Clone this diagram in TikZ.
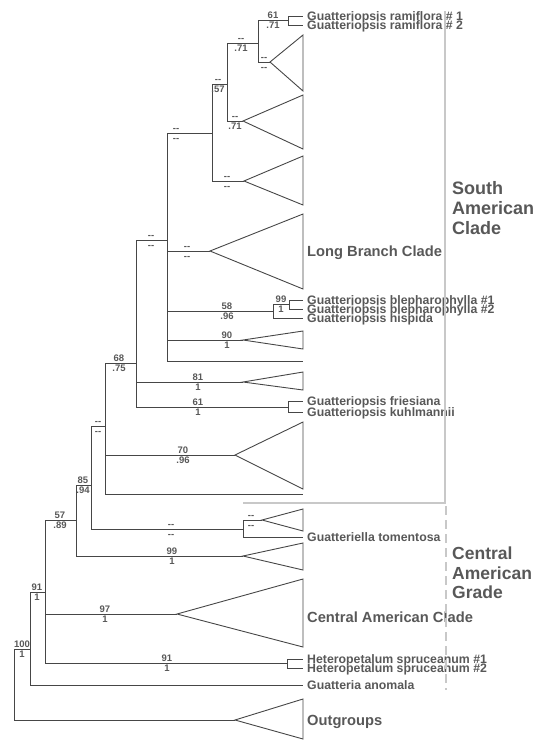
\documentclass[tikz,border=0pt]{standalone}
\usepackage{fontspec}
\setmainfont{Liberation Sans}
\usetikzlibrary{positioning, calc}
\definecolor{treeGray}{RGB}{70,70,70}
\definecolor{labelGray}{RGB}{88,88,88}
\definecolor{groupGray}{RGB}{200,200,200}
\tikzset{
    branch/.style={line width=0.9pt, draw=treeGray},
    supTop/.style={anchor=south, inner sep=1.3pt, text height=7pt, text depth=0pt, font=\fontsize{9.5}{10}\selectfont\bfseries, text=labelGray},
    supBot/.style={anchor=north, inner sep=1.6pt, text height=7pt, text depth=0pt, font=\fontsize{9.5}{10}\selectfont\bfseries, text=labelGray},
    taxLabel/.style={anchor=base west, inner sep=0pt, xshift=4pt, yshift=-4.3pt, font=\fontsize{12.3}{12}\selectfont\bfseries, text=labelGray},
    cladeLabel/.style={anchor=base west, inner sep=0pt, xshift=4pt, yshift=-5.3pt, font=\fontsize{14.7}{15}\selectfont\bfseries, text=labelGray},
    groupLabel/.style={anchor=west, align=left, inner sep=0pt, text=labelGray},
    groupLine/.style={line width=2pt, draw=groupGray}
}

\begin{document}
\begin{tikzpicture}[x=1pt, y=-1pt]
        \useasboundingbox (0,0) rectangle (538,740);

        % --- Macros ---
        \def\nd{\mbox{-}\mbox{-}}
        % parent, child, label x, top value, bottom value
        \def\drawBranch#1#2#3#4#5{
            \draw[branch] (#1) |- (#2);
            \node[supTop] (#2t) at (#3,0 |- #2) {#4};
            \node[supBot] (#2b) at (#3,0 |- #2) {#5};
        }
        % apex, top of base, bottom of base
        \def\drawClade#1#2#3{
            \draw[branch] (#1) -- (303,#2) -- (303,#3) -- cycle;
        }

        % --- Internal nodes ---
        \coordinate (L) at (14,649);
        \coordinate (K) at (30,649);
        \coordinate (J) at (45,592);
        \coordinate (H) at (76,520);
        \coordinate (G) at (91,485);
        \coordinate (F) at (105,426);
        \coordinate (E) at (136,363);
        \coordinate (D) at (167,240);
        \coordinate (C) at (212,133);
        \coordinate (B) at (227,84);
        \coordinate (A) at (258,43);
        \coordinate (T) at (288,20);
        \coordinate (R) at (273,311);
        \coordinate (S) at (289,304);
        \coordinate (Q) at (288,407);
        \coordinate (I) at (243,529);
        \coordinate (P) at (287,663);

        % --- Collapsed clades (apex) ---
        \coordinate (cA) at (270,62);
        \coordinate (cB) at (243,121);
        \coordinate (cC) at (244,181);
        \coordinate (cLong) at (210,251);
        \coordinate (cNinety) at (243,340);
        \coordinate (cEighty) at (243,382);
        \coordinate (cSeventy) at (235,455);
        \coordinate (cTom) at (262,520);
        \coordinate (cNinetyNine) at (243,556);
        \coordinate (cCentral) at (177,614);
        \coordinate (cOut) at (235,720);

        % --- Tips ---
        \coordinate (tRam1) at (303,16);
        \coordinate (tRam2) at (303,25);
        \coordinate (tBle1) at (303,300);
        \coordinate (tBle2) at (303,309);
        \coordinate (tHis) at (303,318);
        \coordinate (tPlainD) at (303,361);
        \coordinate (tFri) at (303,401);
        \coordinate (tKuh) at (303,412);
        \coordinate (tPlainF) at (303,494);
        \coordinate (tTom) at (303,537);
        \coordinate (tHet1) at (303,659);
        \coordinate (tHet2) at (303,668);
        \coordinate (tAno) at (303,685);

        % --- Branches ---
        \drawBranch{L}{K}{22}{100}{1}
        \drawBranch{K}{J}{37}{91}{1}
        \drawBranch{J}{H}{60}{57}{.89}
        \drawBranch{J}{cCentral}{105}{97}{1}
        \drawBranch{J}{P}{167}{91}{1}
        \drawBranch{H}{G}{83}{85}{.94}
        \drawBranch{H}{cNinetyNine}{172}{99}{1}
        \drawBranch{G}{F}{98}{\nd}{\nd}
        \drawBranch{G}{I}{171}{\nd}{\nd}
        \drawBranch{I}{cTom}{251}{\nd}{\nd}
        \drawBranch{F}{E}{119}{68}{.75}
        \drawBranch{F}{cSeventy}{183}{70}{.96}
        \drawBranch{E}{D}{151}{\nd}{\nd}
        \drawBranch{E}{cEighty}{198}{81}{1}
        \drawBranch{E}{Q}{198}{61}{1}
        \drawBranch{D}{C}{176}{\nd}{\nd}
        \drawBranch{D}{cLong}{187}{\nd}{\nd}
        \drawBranch{D}{R}{227}{58}{.96}
        \drawBranch{D}{cNinety}{227}{90}{1}
        \drawBranch{R}{S}{281}{99}{1}
        \drawBranch{C}{B}{218}{\nd}{.57}
        \drawBranch{C}{cC}{227}{\nd}{\nd}
        \drawBranch{B}{A}{241}{\nd}{.71}
        \drawBranch{B}{cB}{235}{\nd}{.71}
        \drawBranch{A}{T}{273}{61}{.71}
        \drawBranch{A}{cA}{264}{\nd}{\nd}

        \draw[branch] (L) |- (cOut);
        \draw[branch] (K) |- (tAno);
        \draw[branch] (P) |- (tHet1);
        \draw[branch] (P) |- (tHet2);
        \draw[branch] (I) |- (tTom);
        \draw[branch] (F) |- (tPlainF);
        \draw[branch] (Q) |- (tFri);
        \draw[branch] (Q) |- (tKuh);
        \draw[branch] (D) |- (tPlainD);
        \draw[branch] (R) |- (tHis);
        \draw[branch] (S) |- (tBle1);
        \draw[branch] (S) |- (tBle2);
        \draw[branch] (T) |- (tRam1);
        \draw[branch] (T) |- (tRam2);

        % --- Triangles ---
        \drawClade{cA}{35}{91}
        \drawClade{cB}{95}{149}
        \drawClade{cC}{156}{205}
        \drawClade{cLong}{214}{289}
        \drawClade{cNinety}{331}{349}
        \drawClade{cEighty}{372}{390}
        \drawClade{cSeventy}{422}{489}
        \drawClade{cTom}{509}{531}
        \drawClade{cNinetyNine}{543}{570}
        \drawClade{cCentral}{579}{647}
        \drawClade{cOut}{699}{739}

        % --- Taxon labels ---
        \node[taxLabel] (lRam1) at (tRam1) {Guatteriopsis ramiflora \# 1};
        \node[taxLabel] (lRam2) at (tRam2) {Guatteriopsis ramiflora \# 2};
        \node[taxLabel] (lBle1) at (tBle1) {Guatteriopsis blepharophylla \#1};
        \node[taxLabel] (lBle2) at (tBle2) {Guatteriopsis blepharophylla \#2};
        \node[taxLabel] (lHis) at (tHis) {Guatteriopsis hispida};
        \node[taxLabel] (lFri) at (tFri) {Guatteriopsis friesiana};
        \node[taxLabel] (lKuh) at (tKuh) {Guatteriopsis kuhlmannii};
        \node[taxLabel] (lTom) at (tTom) {Guatteriella tomentosa};
        \node[taxLabel] (lHet1) at (tHet1) {Heteropetalum spruceanum \#1};
        \node[taxLabel] (lHet2) at (tHet2) {Heteropetalum spruceanum \#2};
        \node[taxLabel] (lAno) at (tAno) {Guatteria anomala};
        \node[cladeLabel] (lLong) at (303,251) {Long Branch Clade};
        \node[cladeLabel] (lCentral) at (303,617) {Central American Clade};
        \node[cladeLabel] (lOut) at (303,720) {Outgroups};

        % --- Group brackets ---
        \draw[groupLine] (445,11) -- (445,503) -- (243,503);
        \draw[groupLine, dash pattern=on 9pt off 5pt] (446,506) -- (446,690);
        \node[groupLabel, font=\fontsize{18}{20}\selectfont\bfseries] (gSouth) at (452,208) {South\\American\\Clade};
        \node[groupLabel, font=\fontsize{17.5}{19.5}\selectfont\bfseries] (gCentral) at (452,573) {Central\\American\\Grade};

    \end{tikzpicture}
\end{document}
